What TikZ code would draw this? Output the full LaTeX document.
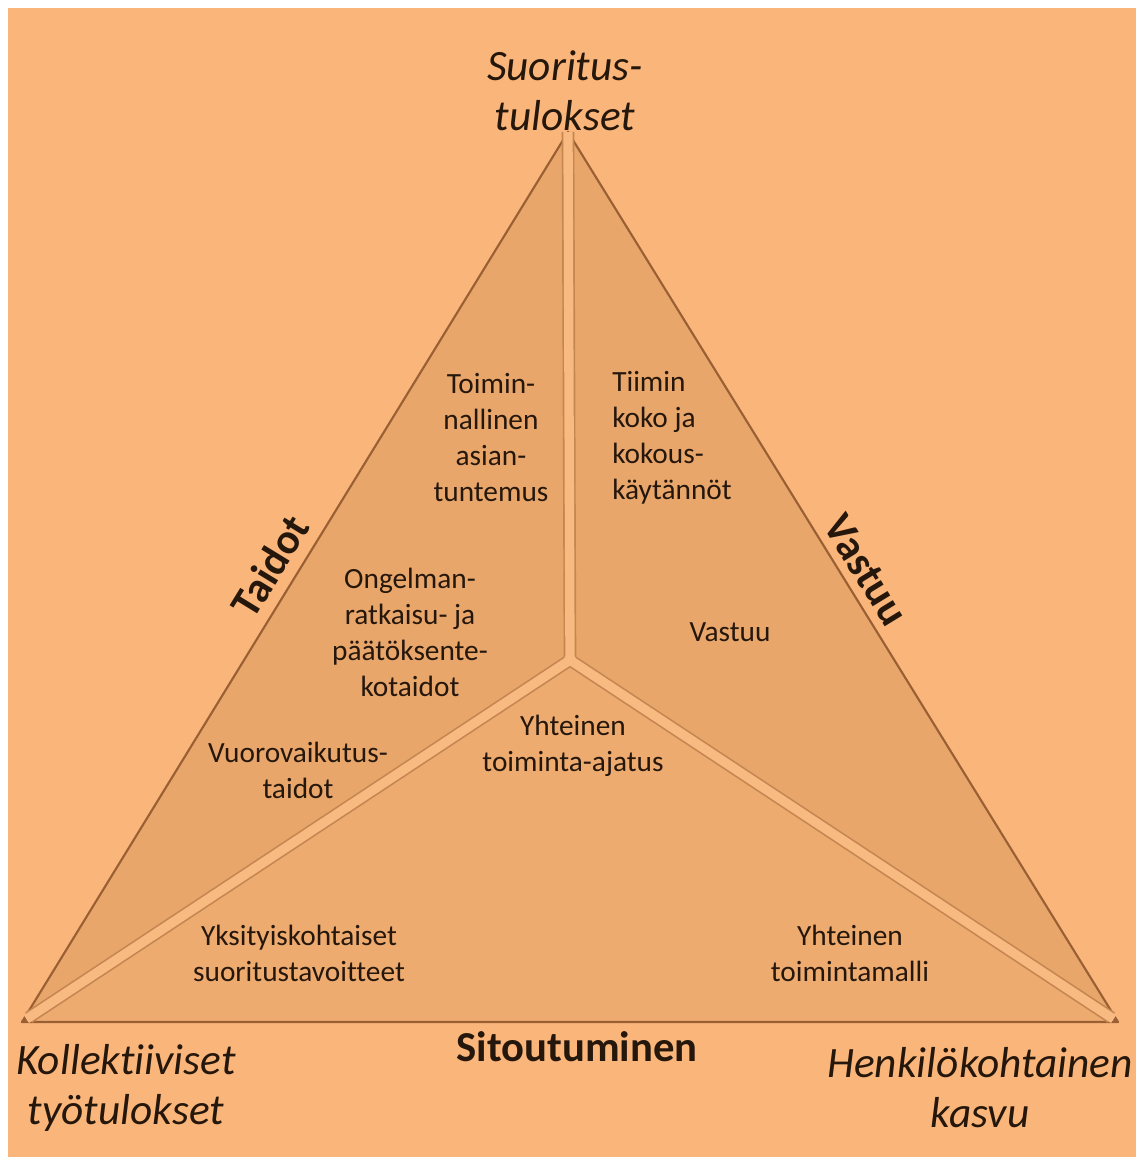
\documentclass[tikz,border=0pt]{standalone}
\usepackage{fontspec}
\setmainfont{Carlito}[Ligatures=NoCommon]
\definecolor{bg}{HTML}{FAB67A}
\definecolor{tri}{HTML}{E8A66B}
\definecolor{trib}{HTML}{EDAB70}
\definecolor{sep}{HTML}{F8BA80}
\definecolor{edge}{HTML}{9A6033}
\definecolor{txt}{HTML}{26170C}
\begin{document}
\begin{tikzpicture}[x=0.75pt,y=-0.75pt,
  panel/.style={draw=edge,line width=1.6pt,line join=round},
  rim/.style={draw=edge!45!tri,line width=9.5pt,line cap=butt},
  divider/.style={draw=sep,line width=7pt,line cap=butt},
  small/.style={font=\fontsize{22}{27}\selectfont,text=txt,align=center,inner sep=0pt},
  corner/.style={font=\fontsize{32.5}{37.5}\selectfont\itshape,text=txt,align=center,inner sep=0pt},
  side/.style={font=\fontsize{32}{37.5}\selectfont\bfseries,text=txt,inner sep=0pt}]
\useasboundingbox (0,0) rectangle (1148,1157);
\fill[white] (0,0) rectangle (1148,1157);
\fill[bg] (8,8) rectangle (1136,1157);
\coordinate (A) at (568,132);
\coordinate (L) at (22,1022);
\coordinate (R) at (1118,1022);
\coordinate (C) at (570,660);
% panels
\fill[tri] (A) -- (C) -- (L) -- cycle;
\fill[tri] (A) -- (R) -- (C) -- cycle;
\fill[trib] (C) -- (R) -- (L) -- cycle;
\draw[panel] (A) -- (C) -- (L) -- cycle;
\draw[panel] (A) -- (R) -- (C) -- cycle;
\draw[panel] (C) -- (R) -- (L) -- cycle;
% dividers
\draw[rim] (A) -- (C);
\draw[rim,shorten >=6pt] (C) -- (L);
\draw[rim,shorten >=6pt] (C) -- (R);
\draw[divider] (A) -- (C);
\draw[divider,shorten >=4pt] (C) -- (L);
\draw[divider,shorten >=4pt] (C) -- (R);
\fill[sep] (C) circle (4.5pt);
% corner labels
\node[corner] (top) at (565,91) {Suoritus-\\tulokset};
\node[corner] (bl) at (126,1088) {Kollektiiviset\\työtulokset};
\node[corner] (br) at (980,1088) {Henkilökohtainen\\kasvu};
% side labels
\node[side,rotate=58.5] (taidot) at (270,566) {Taidot};
\node[side,rotate=-58.5] (vastuu) at (866,570) {Vastuu};
\node[side,anchor=base] (sitout) at (577,1061) {Sitoutuminen};
% inner texts
\node[small] (t1) at (491,438) {Toimin-\\nallinen\\asian-\\tuntemus};
\node[small,align=left,anchor=west] (t2) at (612,438) {Tiimin\\koko ja\\kokous-\\käytännöt};
\node[small] (t3) at (410,632) {Ongelman-\\ratkaisu- ja\\päätöksente-\\kotaidot};
\node[small] (t4) at (298,770) {Vuorovaikutus-\\taidot};
\node[small] (t5) at (730,632) {Vastuu};
\node[small] (t6) at (573,746) {Yhteinen\\toiminta-ajatus};
\node[small] (t7) at (299,953) {Yksityiskohtaiset\\suoritustavoitteet};
\node[small] (t8) at (850,953) {Yhteinen\\toimintamalli};
\end{tikzpicture}
\end{document}
